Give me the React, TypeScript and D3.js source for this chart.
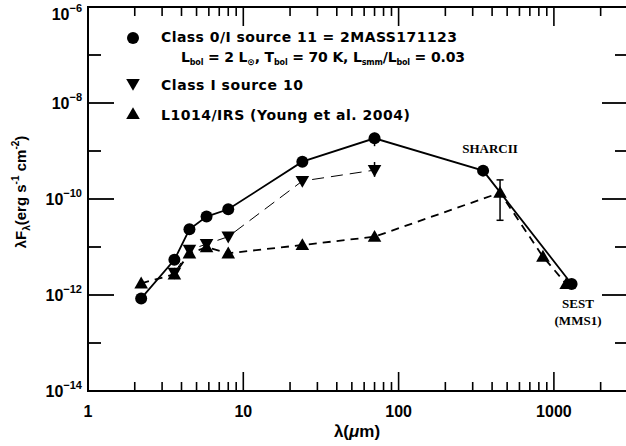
import React from "react";
import * as d3 from "d3";

// ---- data ----
const classIWave = [2.2, 3.6, 4.5, 5.8, 8.0, 24, 70, 350, 1300];
const classIFlux = [8.5e-13, 5.4e-12, 2.33e-11, 4.3e-11, 6.1e-11, 6.0e-10, 1.84e-9, 3.9e-10, 1.7e-12];

const src10Wave = [3.6, 4.5, 5.8, 8.0, 24, 70];
const src10Flux = [2.9e-12, 8.7e-12, 1.15e-11, 1.64e-11, 2.37e-10, 4.0e-10];

const l1014Wave = [2.2, 3.6, 4.5, 5.8, 8.0, 24, 70, 450, 850, 1200];
const l1014Flux = [1.75e-12, 2.7e-12, 7.4e-12, 9.9e-12, 7.4e-12, 1.1e-11, 1.64e-11, 1.35e-10, 6.3e-12, 1.7e-12];

// error bars
const errWave = [70, 70, 450];
const errLow = [1.26e-9, 2.9e-10, 3.6e-11];
const errHigh = [2.4e-9, 5.9e-10, 2.5e-10];
const errCaps = [false, false, true];

const xMajor = [1, 10, 100, 1000];
const xMajorLabels = ["1", "10", "100", "1000"];
const yMajorExp = [-6, -8, -10, -12, -14];
const yMinorExp = [-7, -9, -11, -13];

const W = 626;
const H = 446;

export default function App() {
  const x = d3.scaleLog().domain([1, 1000]).range([88, 88 + 3 * 155.3]);
  const y = d3.scaleLog().domain([1e-14, 1e-6]).range([391, 7]);
  const left = x(1);
  const right = x(3000);
  const top = y(1e-6);
  const bottom = y(1e-14);

  const line = d3
    .line<[number, number]>()
    .x((d) => x(d[0]))
    .y((d) => y(d[1]));

  const classPts = classIWave.map((w, i) => [w, classIFlux[i]] as [number, number]);
  const src10Pts = src10Wave.map((w, i) => [w, src10Flux[i]] as [number, number]);
  const l1014Pts = l1014Wave.map((w, i) => [w, l1014Flux[i]] as [number, number]);

  const minorX: number[] = [];
  for (const dec of [1, 10, 100, 1000]) {
    for (let k = 2; k <= 9; k++) {
      const v = dec * k;
      if (v < 3000) minorX.push(v);
    }
  }

  const tri = (cx: number, cy: number, up: boolean, s = 6.8) => {
    const h = s * 1.0;
    if (up) return `M${cx},${cy - h} L${cx + s},${cy + h * 0.75} L${cx - s},${cy + h * 0.75} Z`;
    return `M${cx},${cy + h} L${cx + s},${cy - h * 0.75} L${cx - s},${cy - h * 0.75} Z`;
  };

  const tickFont = "'Liberation Sans', Arial, sans-serif";
  const legFont = "'DejaVu Sans', sans-serif";
  const serifFont = "'Liberation Serif', 'Times New Roman', serif";

  return (
    <svg
      width={W}
      height={H}
      style={{ position: "absolute", left: 0, top: 0, background: "#fff" }}
    >
      <rect x={0} y={0} width={W} height={H} fill="#fff" />
      {/* frame */}
      <rect x={left} y={top} width={right - left} height={bottom - top} fill="none" stroke="#000" strokeWidth={2} />

      {/* x ticks */}
      {xMajor.map((v) => (
        <g key={"xm" + v}>
          <line x1={x(v)} x2={x(v)} y1={bottom} y2={bottom - 19} stroke="#000" strokeWidth={1.6} />
          <line x1={x(v)} x2={x(v)} y1={top} y2={top + 19} stroke="#000" strokeWidth={1.6} />
        </g>
      ))}
      {minorX.map((v) => (
        <g key={"xn" + v}>
          <line x1={x(v)} x2={x(v)} y1={bottom} y2={bottom - 9} stroke="#000" strokeWidth={1.6} />
          <line x1={x(v)} x2={x(v)} y1={top} y2={top + 9} stroke="#000" strokeWidth={1.6} />
        </g>
      ))}
      {xMajor.map((v, i) => (
        <text key={"xl" + v} x={x(v)} y={417} textAnchor="middle" fontFamily={tickFont} fontWeight="bold" fontSize={16}>
          {xMajorLabels[i]}
        </text>
      ))}

      {/* y ticks */}
      {yMajorExp.map((e) => (
        <g key={"ym" + e}>
          <line x1={left} x2={left + 26} y1={y(Math.pow(10, e))} y2={y(Math.pow(10, e))} stroke="#000" strokeWidth={1.8} />
          <line x1={right} x2={right - 26} y1={y(Math.pow(10, e))} y2={y(Math.pow(10, e))} stroke="#000" strokeWidth={1.8} />
          <text
            x={82}
            y={Math.max(y(Math.pow(10, e)) + 6, 20)}
            textAnchor="end"
            fontFamily={tickFont}
            fontWeight="bold"
            fontSize={16}
          >
            10
            <tspan dy={-8} fontSize={11}>
              {"\u2212" + String(-e)}
            </tspan>
          </text>
        </g>
      ))}
      {yMinorExp.map((e) => (
        <g key={"yn" + e}>
          <line x1={left} x2={left + 13} y1={y(Math.pow(10, e))} y2={y(Math.pow(10, e))} stroke="#000" strokeWidth={1.8} />
          <line x1={right} x2={right - 13} y1={y(Math.pow(10, e))} y2={y(Math.pow(10, e))} stroke="#000" strokeWidth={1.8} />
        </g>
      ))}

      {/* axis titles */}
      <text x={357} y={437} textAnchor="middle" fontFamily={tickFont} fontWeight="bold" fontSize={17}>
        λ(<tspan fontStyle="italic">μ</tspan>m)
      </text>
      <text
        transform={`translate(26,${192}) rotate(-90)`}
        textAnchor="middle"
        fontFamily={tickFont}
        fontSize={15}
        fontWeight="bold"
      >
        λF<tspan dy={4} fontSize={10}>λ</tspan>
        <tspan dy={-4}>(erg s</tspan>
        <tspan dy={-7} fontSize={10}>-1</tspan>
        <tspan dy={7}> cm</tspan>
        <tspan dy={-7} fontSize={10}>-2</tspan>
        <tspan dy={7}>)</tspan>
      </text>

      {/* lines */}
      <path d={line(src10Pts) || ""} fill="none" stroke="#000" strokeWidth={1} strokeDasharray="12,7" />
      <path d={line(l1014Pts) || ""} fill="none" stroke="#000" strokeWidth={1.8} strokeDasharray="8,6" />
      <path d={line(classPts) || ""} fill="none" stroke="#000" strokeWidth={1.8} />

      {/* error bars */}
      {errWave.map((w, i) => (
        <g key={"e" + i}>
          <line x1={x(w)} x2={x(w)} y1={y(errLow[i])} y2={y(errHigh[i])} stroke="#000" strokeWidth={1.5} />
          {errCaps[i] && (
            <>
              <line x1={x(w) - 3.5} x2={x(w) + 3.5} y1={y(errLow[i])} y2={y(errLow[i])} stroke="#000" strokeWidth={1.5} />
              <line x1={x(w) - 3.5} x2={x(w) + 3.5} y1={y(errHigh[i])} y2={y(errHigh[i])} stroke="#000" strokeWidth={1.5} />
            </>
          )}
        </g>
      ))}

      {/* markers */}
      {l1014Pts.map((p, i) => (
        <path key={"lt" + i} d={tri(x(p[0]), y(p[1]), true)} fill="#000" />
      ))}
      {src10Pts.map((p, i) => (
        <path key={"st" + i} d={tri(x(p[0]), y(p[1]), false)} fill="#000" />
      ))}
      {classPts.map((p, i) => (
        <circle key={"c" + i} cx={x(p[0])} cy={y(p[1])} r={6} fill="#000" />
      ))}

      {/* annotations */}
      <text x={490} y={153} textAnchor="middle" fontFamily={serifFont} fontWeight="bold" fontSize={13}>
        SHARCII
      </text>
      <text x={578} y={308} textAnchor="middle" fontFamily={serifFont} fontWeight="bold" fontSize={13}>
        SEST
      </text>
      <text x={578} y={325} textAnchor="middle" fontFamily={serifFont} fontWeight="bold" fontSize={13}>
        (MMS1)
      </text>

      {/* legend */}
      <circle cx={133} cy={38} r={6} fill="#000" />
      <text x={161} y={42} fontFamily={legFont} fontWeight="bold" fontSize={14} textLength={296} lengthAdjust="spacing">
        Class 0/I source 11 = 2MASS171123
      </text>
      <text x={181} y={62} fontFamily={legFont} fontWeight="bold" fontSize={14} textLength={284} lengthAdjust="spacing">
        L<tspan dy={3} fontSize={8}>bol</tspan>
        <tspan dy={-3}>{" = 2 L"}</tspan>
        <tspan dy={3} fontSize={9}>⊙</tspan>
        <tspan dy={-3}>{",  T"}</tspan>
        <tspan dy={3} fontSize={8}>bol</tspan>
        <tspan dy={-3}>{" = 70 K,  L"}</tspan>
        <tspan dy={3} fontSize={8}>smm</tspan>
        <tspan dy={-3}>{"/L"}</tspan>
        <tspan dy={3} fontSize={8}>bol</tspan>
        <tspan dy={-3}>{" = 0.03"}</tspan>
      </text>
      <path d={tri(133, 84, false)} fill="#000" />
      <text x={161} y={90} fontFamily={legFont} fontWeight="bold" fontSize={14} textLength={142} lengthAdjust="spacing">
        Class I source 10
      </text>
      <path d={tri(133, 114, true)} fill="#000" />
      <text x={161} y={120} fontFamily={legFont} fontWeight="bold" fontSize={14} textLength={249} lengthAdjust="spacing">
        L1014/IRS (Young et al. 2004)
      </text>
    </svg>
  );
}
